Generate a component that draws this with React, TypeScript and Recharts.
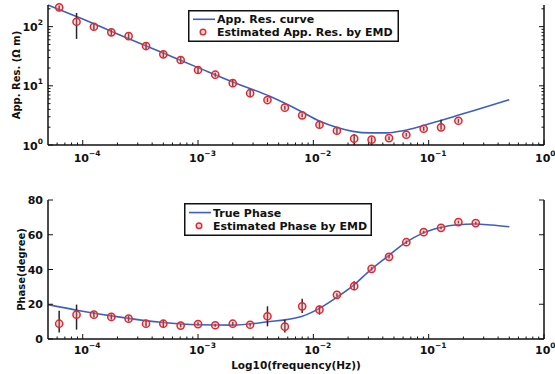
import React from 'react';
import { ComposedChart, Line, Scatter, XAxis, YAxis, ErrorBar, Legend } from 'recharts';

const FONT = '"DejaVu Sans", "Liberation Sans", Arial, sans-serif';
const BLUE = '#3c5fc2';
const RED = '#e8242c';
const INK = '#111';

// ---- frequency axis (Hz), log scale ----
const freqDomain: [number, number] = [5e-5, 1];
const decadeTicks = [1e-4, 1e-3, 1e-2, 1e-1, 1];
const decadeExps = ['\u22124', '\u22123', '\u22122', '\u22121', '0'];
const minorMantissas = [2, 3, 4, 5, 6, 7, 8, 9];
const freqMinorTicks = [1e-5, 1e-4, 1e-3, 1e-2, 1e-1]
  .flatMap((d) => minorMantissas.map((m) => m * d))
  .filter((v) => v > freqDomain[0] * 1.001 && v < 0.999);
const freqTicks = [...freqMinorTicks, ...decadeTicks].sort((a, b) => a - b);

// ---- apparent resistivity axis (ohm m), log scale ----
const resDomain: [number, number] = [1, 232];
const resDecades = [1, 10, 100];
const resExps = ['0', '1', '2'];
const resTicks = [...resDecades, ...resDecades.flatMap((d) => minorMantissas.map((m) => m * d))]
  .filter((v) => v < resDomain[1])
  .sort((a, b) => a - b);

// ---- phase axis (degree) ----
const phaseDomain: [number, number] = [0, 80];
const phaseTicks = [0, 20, 40, 60, 80];

// ---- apparent resistivity: model curve ----
const resCurveFreq = [5e-5, 1e-4, 2e-4, 5e-4, 1e-3, 2e-3, 4.19e-3, 7.62e-3, 1.14e-2, 1.58e-2, 2.2e-2, 3.08e-2, 4.3e-2, 5.96e-2, 8.9e-2, 0.125, 0.179, 0.26, 0.5];
const resCurveVal = [232, 134, 75.3, 35.7, 20.3, 11.6, 6.65, 3.8, 2.51, 1.99, 1.7, 1.6, 1.6, 1.74, 2.12, 2.57, 3.17, 3.95, 5.82];

// ---- estimation frequencies (Hz) ----
const estFreq = [6.25e-5, 8.84e-5, 1.25e-4, 1.77e-4, 2.5e-4, 3.54e-4, 5e-4, 7.07e-4, 1e-3, 1.41e-3, 2e-3, 2.83e-3, 4e-3, 5.66e-3, 8e-3, 1.13e-2, 1.6e-2, 2.26e-2, 3.2e-2, 4.53e-2, 6.4e-2, 9.05e-2, 0.128, 0.181, 0.256];

// ---- apparent resistivity estimated by EMD, with [below, above] error ----
const estRes = [212, 121, 99.6, 80, 69, 47, 34, 27.3, 18.5, 15.4, 11.1, 7.5, 5.75, 4.27, 3.17, 2.2, 1.74, 1.28, 1.23, 1.31, 1.49, 1.88, 1.99, 2.57];
const estResErr: [number, number][] = [
  [23, 15], [59, 49], [11, 12], [9, 10], [8, 8.5], [6.8, 7.9], [3.8, 4.2], [3, 3.4],
  [2, 2.3], [1.2, 1.2], [1.2, 1.4], [1.1, 1.3], [0.45, 0.47], [0.33, 0.35], [0.24, 0.25], [0.25, 0.28],
  [0.19, 0.22], [0.28, 0.25], [0.23, 0.12], [0.1, 0.1], [0.1, 0.1], [0.14, 0.15], [0.18, 0.68], [0.2, 0.2],
];

// ---- phase: model curve ----
const phaseCurveFreq = [5e-5, 9.4e-5, 1.9e-4, 4.77e-4, 1e-3, 2e-3, 3.9e-3, 7.9e-3, 1.12e-2, 1.58e-2, 2.24e-2, 3.1e-2, 4.4e-2, 6.2e-2, 8.8e-2, 0.124, 0.177, 0.25, 0.35, 0.5];
const phaseCurveVal = [19.8, 16.3, 13.0, 9.6, 8.2, 8.0, 9.8, 13.0, 17.5, 23.8, 31.0, 39.5, 47.5, 55.2, 60.8, 64.0, 65.8, 66.2, 65.6, 64.6];

// ---- phase estimated by EMD, with [below, above] error ----
const estPhase = [8.8, 14.0, 14.0, 12.7, 11.7, 8.8, 8.8, 7.7, 8.6, 7.9, 8.8, 8.2, 13.1, 7.1, 18.8, 16.9, 25.4, 30.4, 40.4, 47.3, 55.7, 61.5, 64.0, 67.3, 66.7];
const estPhaseErr: [number, number][] = [
  [5, 7.5], [8.6, 5.8], [1.5, 1.5], [1.5, 1.5], [1.5, 1.5], [1.5, 1.5], [2, 2], [1, 1],
  [1, 1], [0.8, 0.8], [1, 1], [1, 1], [5.8, 5.7], [3.3, 4], [3.8, 4.3], [2.9, 2.3],
  [1, 1], [2.4, 2.8], [1, 1], [1, 1], [1, 1], [0.8, 0.8], [0.8, 0.8], [0.8, 0.8], [0.8, 0.8],
];

const resCurve = resCurveFreq.map((f, i) => ({ f, v: resCurveVal[i] }));
const resPoints = estRes.map((v, i) => ({ f: estFreq[i], v, err: estResErr[i] }));
const phaseCurve = phaseCurveFreq.map((f, i) => ({ f, v: phaseCurveVal[i] }));
const phasePoints = estPhase.map((v, i) => ({ f: estFreq[i], v, err: estPhaseErr[i] }));

// ---- tick helpers ----
const isDecade = (v: number) => Math.abs(Math.log10(v) - Math.round(Math.log10(v))) < 1e-6;
const decadeExp = (v: number, decades: number[], exps: string[]) => {
  const idx = decades.findIndex((d) => Math.abs(Math.log10(d) - Math.log10(v)) < 1e-6);
  return idx >= 0 ? exps[idx] : '';
};
const MAJOR_LEN = 5;
const MINOR_LEN = 2.5;
const textStyle = { fontFamily: FONT, fontWeight: 'bold' as const, fill: INK };

type Side = 'bottom' | 'top' | 'left' | 'right';

const makeTick = (
  side: Side,
  isMajor: (v: number) => boolean,
  label?: (x: number, y: number, v: number) => React.ReactNode,
) => (props: any) => {
  const { x, y, payload } = props;
  const v = payload.value as number;
  const major = isMajor(v);
  const len = major ? MAJOR_LEN : MINOR_LEN;
  let seg = { x1: x, y1: y, x2: x, y2: y };
  if (side === 'bottom') seg = { x1: x, y1: y, x2: x, y2: y - len };
  if (side === 'top') seg = { x1: x, y1: y, x2: x, y2: y + len };
  if (side === 'left') seg = { x1: x, y1: y, x2: x + len, y2: y };
  if (side === 'right') seg = { x1: x, y1: y, x2: x - len, y2: y };
  return (
    <g>
      <line {...seg} stroke={INK} strokeWidth={1} />
      {major && label ? label(x, y, v) : null}
    </g>
  );
};

const freqLabel = (gap: number) => (x: number, y: number, v: number) => (
  <text x={x - 9} y={y + gap} fontSize={11} {...textStyle}>
    10
    <tspan dy={-6} fontSize={7.5}>{decadeExp(v, decadeTicks, decadeExps)}</tspan>
  </text>
);
const resLabel = (x: number, y: number, v: number) => (
  <text x={x - 5} y={y + 4.5} fontSize={11} textAnchor="end" {...textStyle}>
    10
    <tspan dy={-6} fontSize={7.5}>{decadeExp(v, resDecades, resExps)}</tspan>
  </text>
);
const phaseLabel = (x: number, y: number, v: number) => (
  <text x={x - 5} y={y + 4} fontSize={11} textAnchor="end" {...textStyle}>
    {v}
  </text>
);

const always = () => true;
const freqBottomTickTop = makeTick('bottom', isDecade, freqLabel(17));
const freqBottomTickLow = makeTick('bottom', isDecade, freqLabel(15));
const freqTopTick = makeTick('top', isDecade);
const resLeftTick = makeTick('left', isDecade, resLabel);
const resRightTick = makeTick('right', isDecade);
const phaseLeftTick = makeTick('left', always, phaseLabel);
const phaseRightTick = makeTick('right', always);

const yTitle = (text: string, baselineX: number) => (props: any) => {
  const vb = props.viewBox;
  const cy = vb.y + vb.height / 2;
  return (
    <text
      x={baselineX}
      y={cy}
      textAnchor="middle"
      fontSize={10}
      transform={`rotate(-90, ${baselineX}, ${cy})`}
      {...textStyle}
    >
      {text}
    </text>
  );
};

const xTitle = (text: string) => (props: any) => {
  const vb = props.viewBox;
  return (
    <text x={vb.x + vb.width / 2} y={vb.y + 30} textAnchor="middle" fontSize={10.5} {...textStyle}>
      {text}
    </text>
  );
};

const RedCircle = (p: any) => (
  <circle cx={p.cx} cy={p.cy} r={3.6} fill="rgba(255,150,150,0.35)" stroke={RED} strokeWidth={1.5} />
);

const LegendBox = ({ w, h, lines }: { w: number; h: number; lines: [string, string] }) => (
  <svg width={w} height={h} style={{ display: 'block' }}>
    <rect x={0.75} y={0.75} width={w - 1.5} height={h - 1.5} fill="#fff" stroke={INK} strokeWidth={1.5} />
    <line x1={5} x2={27} y1={h * 0.29} y2={h * 0.29} stroke={BLUE} strokeWidth={1.6} />
    <circle cx={15} cy={h * 0.69} r={2.8} fill="rgba(255,150,150,0.35)" stroke={RED} strokeWidth={1.4} />
    <text x={29} y={h * 0.29 + 4} fontSize={11} {...textStyle}>{lines[0]}</text>
    <text x={29} y={h * 0.69 + 4} fontSize={11} {...textStyle}>{lines[1]}</text>
  </svg>
);

const W = 555;
const frame = { stroke: INK, strokeWidth: 1.5 };

export default function App() {
  return (
    <div style={{ position: 'absolute', left: 0, top: 0, width: W, height: 374, background: '#fff' }}>
      <ComposedChart width={W} height={185} margin={{ top: 5, right: 0, bottom: 0, left: 8 }}>
        <XAxis
          dataKey="f"
          type="number"
          scale="log"
          domain={freqDomain}
          ticks={freqTicks}
          interval={0}
          tickSize={0}
          tickMargin={0}
          tickLine={false}
          axisLine={frame}
          tick={freqBottomTickTop}
          height={40}
        />
        <XAxis
          xAxisId="top"
          orientation="top"
          type="number"
          scale="log"
          domain={freqDomain}
          allowDataOverflow
          ticks={freqTicks}
          interval={0}
          tickSize={0}
          tickMargin={0}
          tickLine={false}
          axisLine={frame}
          tick={freqTopTick}
          height={0}
        />
        <YAxis
          dataKey="v"
          type="number"
          scale="log"
          domain={resDomain}
          ticks={resTicks}
          interval={0}
          tickSize={0}
          tickMargin={0}
          tickLine={false}
          axisLine={frame}
          tick={resLeftTick}
          width={40}
          label={yTitle('App. Res. (\u03A9 m)', 20)}
        />
        <YAxis
          yAxisId="right"
          orientation="right"
          type="number"
          scale="log"
          domain={resDomain}
          allowDataOverflow
          ticks={resTicks}
          interval={0}
          tickSize={0}
          tickMargin={0}
          tickLine={false}
          axisLine={frame}
          tick={resRightTick}
          width={11}
        />
        <Line
          data={resCurve}
          dataKey="v"
          name="App. Res. curve"
          type="monotone"
          stroke={BLUE}
          strokeWidth={1.6}
          dot={false}
          activeDot={false}
          isAnimationActive={false}
        />
        <Scatter
          data={resPoints}
          dataKey="v"
          name="Estimated App. Res. by EMD"
          shape={RedCircle}
          isAnimationActive={false}
        >
          <ErrorBar dataKey="err" direction="y" width={0} stroke="#262626" strokeWidth={1.5} isAnimationActive={false} />
        </Scatter>
        <Legend
          layout="horizontal"
          align="center"
          verticalAlign="middle"
          wrapperStyle={{ position: 'absolute', left: 188, top: 10, width: 211, height: 32 }}
          content={() => <LegendBox w={211} h={32} lines={['App. Res. curve', 'Estimated App. Res. by EMD']} />}
        />
      </ComposedChart>

      <ComposedChart width={W} height={189} margin={{ top: 15, right: 0, bottom: 0, left: 8 }}>
        <XAxis
          dataKey="f"
          type="number"
          scale="log"
          domain={freqDomain}
          ticks={freqTicks}
          interval={0}
          tickSize={0}
          tickMargin={0}
          tickLine={false}
          axisLine={frame}
          tick={freqBottomTickLow}
          height={35}
          label={xTitle('Log10(frequency(Hz))')}
        />
        <XAxis
          xAxisId="top"
          orientation="top"
          type="number"
          scale="log"
          domain={freqDomain}
          allowDataOverflow
          ticks={freqTicks}
          interval={0}
          tickSize={0}
          tickMargin={0}
          tickLine={false}
          axisLine={frame}
          tick={freqTopTick}
          height={0}
        />
        <YAxis
          dataKey="v"
          type="number"
          domain={phaseDomain}
          ticks={phaseTicks}
          interval={0}
          tickSize={0}
          tickMargin={0}
          tickLine={false}
          axisLine={frame}
          tick={phaseLeftTick}
          width={40}
          label={yTitle('Phase(degree)', 25)}
        />
        <YAxis
          yAxisId="right"
          orientation="right"
          type="number"
          domain={phaseDomain}
          allowDataOverflow
          ticks={phaseTicks}
          interval={0}
          tickSize={0}
          tickMargin={0}
          tickLine={false}
          axisLine={frame}
          tick={phaseRightTick}
          width={11}
        />
        <Line
          data={phaseCurve}
          dataKey="v"
          name="True Phase"
          type="monotone"
          stroke={BLUE}
          strokeWidth={1.6}
          dot={false}
          activeDot={false}
          isAnimationActive={false}
        />
        <Scatter
          data={phasePoints}
          dataKey="v"
          name="Estimated Phase by EMD"
          shape={RedCircle}
          isAnimationActive={false}
        >
          <ErrorBar dataKey="err" direction="y" width={0} stroke="#262626" strokeWidth={1.5} isAnimationActive={false} />
        </Scatter>
        <Legend
          layout="horizontal"
          align="center"
          verticalAlign="middle"
          wrapperStyle={{ position: 'absolute', left: 184, top: 18, width: 188, height: 33 }}
          content={() => <LegendBox w={188} h={33} lines={['True Phase', 'Estimated Phase by EMD']} />}
        />
      </ComposedChart>
    </div>
  );
}
